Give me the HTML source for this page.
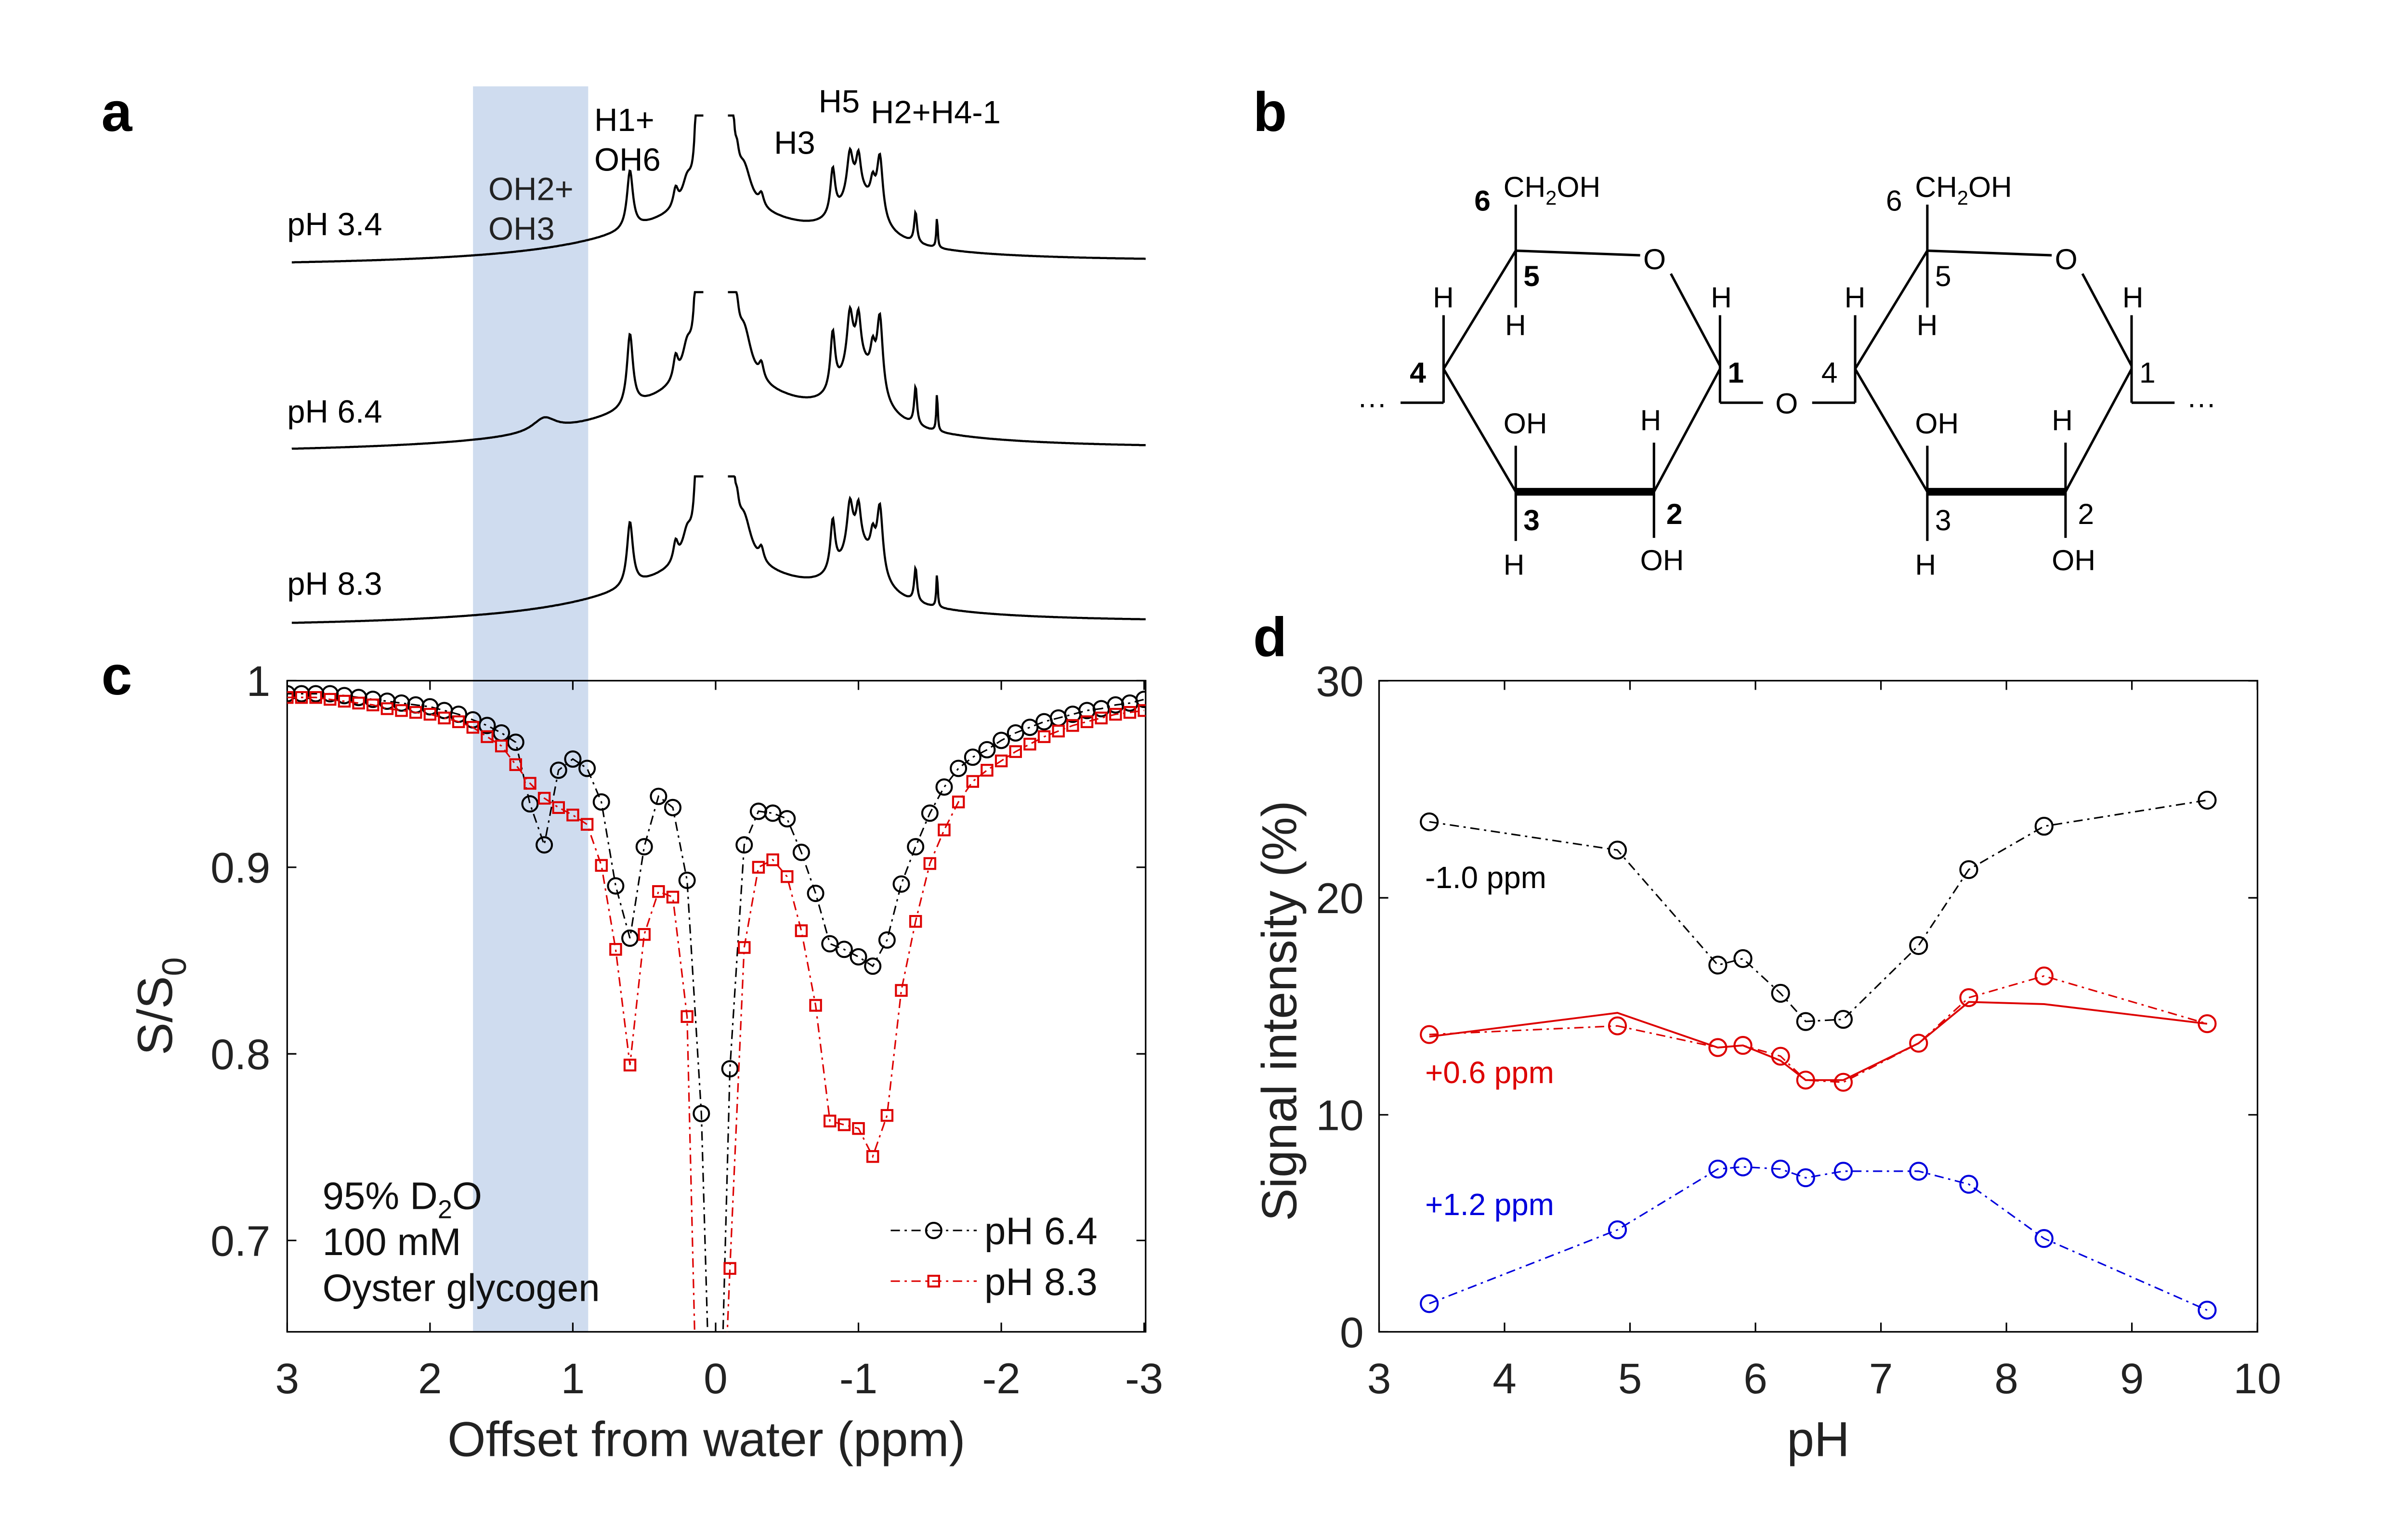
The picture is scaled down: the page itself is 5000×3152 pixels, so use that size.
<!DOCTYPE html>
<html><head><meta charset="utf-8"><style>
html,body{margin:0;padding:0;background:#fff;width:5000px;height:3152px;overflow:hidden}
svg{display:block;position:absolute;left:0;top:0}
text{font-family:"Liberation Sans",Arial,sans-serif}
</style></head><body>
<svg id="fig" width="5000" height="3152" viewBox="0 0 1568 988" xmlns="http://www.w3.org/2000/svg">
<rect width="1568" height="988" fill="#fff"/>
<text x="66" y="85" font-size="36" font-weight="bold">a</text>
<text x="816" y="85" font-size="36" font-weight="bold">b</text>
<text x="66" y="452" font-size="36" font-weight="bold">c</text>
<text x="816" y="427" font-size="36" font-weight="bold">d</text>
<rect x="308" y="56" width="75" height="811" fill="#cfdcef"/>
<g id="spectra"></g>
<g font-size="21">
<text x="187" y="153">pH 3.4</text>
<text x="187" y="275">pH 6.4</text>
<text x="187" y="387">pH 8.3</text>
<text x="318" y="130" fill="#222">OH2+</text><text x="318" y="156" fill="#222">OH3</text>
<text x="387" y="85">H1+</text><text x="387" y="111">OH6</text>
<text x="504" y="100">H3</text><text x="533" y="73">H5</text><text x="567" y="80">H2+H4-1</text>
</g>
<g id="struct" stroke="#000" stroke-width="1.6" fill="none"></g>
<g id="chartc"></g>
<g id="chartd"></g>
</svg>
<script>
const NS="http://www.w3.org/2000/svg";
function mk(p,tag,a,txt){const e=document.createElementNS(NS,tag);for(const k in a)e.setAttribute(k,a[k]);if(txt!==undefined)e.textContent=txt;p.appendChild(e);return e;}

// ---------- Chart c data ----------
const offsets=[3,2.9,2.8,2.7,2.6,2.5,2.4,2.3,2.2,2.1,2,1.9,1.8,1.7,1.6,1.5,1.4,1.3,1.2,1.1,1,0.9,0.8,0.7,0.6,0.5,0.4,0.3,0.2,0.1,0,-0.1,-0.2,-0.3,-0.4,-0.5,-0.6,-0.7,-0.8,-0.9,-1,-1.1,-1.2,-1.3,-1.4,-1.5,-1.6,-1.7,-1.8,-1.9,-2,-2.1,-2.2,-2.3,-2.4,-2.5,-2.6,-2.7,-2.8,-2.9,-3];
const ph64=[.993,.993,.993,.993,.992,.991,.99,.989,.988,.987,.986,.984,.982,.979,.976,.972,.967,.934,.912,.952,.958,.953,.935,.89,.862,.911,.938,.932,.893,.768,.5,.792,.912,.93,.929,.926,.908,.886,.859,.856,.852,.847,.861,.891,.911,.929,.943,.953,.959,.963,.968,.972,.975,.978,.98,.982,.984,.985,.987,.988,.99];
const ph83=[.991,.991,.991,.99,.989,.988,.987,.985,.984,.983,.982,.98,.978,.975,.97,.965,.955,.945,.937,.932,.928,.923,.901,.856,.794,.864,.887,.884,.82,.5,.5,.685,.857,.9,.904,.895,.866,.826,.764,.762,.76,.745,.767,.834,.871,.902,.92,.935,.946,.952,.957,.962,.966,.97,.973,.976,.978,.98,.982,.983,.984];
const cXTicks=[3,2,1,0,-1,-2,-3];
const cYTicks=[0.7,0.8,0.9,1];

// ---------- Chart d data ----------
const phVals=[3.4,4.9,5.7,5.9,6.2,6.4,6.7,7.3,7.7,8.3,9.6];
const neg10=[23.5,22.2,16.9,17.2,15.6,14.3,14.4,17.8,21.3,23.3,24.5];
const pos06=[13.7,14.1,13.1,13.2,12.7,11.6,11.5,13.3,15.4,16.4,14.2];
const pos06fit=[13.6,14.7,13.1,13.2,12.5,11.6,11.6,13.3,15.2,15.1,14.2];
const pos12=[1.3,4.7,7.5,7.6,7.5,7.1,7.4,7.4,6.8,4.3,1.0];
const dXTicks=[3,4,5,6,7,8,9,10];
const dYTicks=[0,10,20,30];

// ---------- Spectra peak lists: [ppm, height, width] ----------
const specPeaks=[[0,34,0.8],[0.6,38,0.025],[0.28,12,0.02],[0.2,14,0.04],[0,1500,0.014],[0.12,200,0.012],[-0.1,200,0.012],[-0.15,10,0.015],[-0.2,22,0.06],[-0.32,8,0.02],[-1.0,32,0.16],[-0.82,30,0.02],[-0.94,28,0.025],[-1.0,22,0.02],[-1.15,40,0.025],[-1.1,15,0.02],[-1.4,20,0.012],[-1.55,20,0.006]];
const specBase=[173,295,408];
const specScale=[1,1.25,1.1];

(function(){
 const cX=v=>466-v*93, cY=v=>443+(1-v)*1215;
 const g=document.getElementById('chartc');
 const cp=mk(g,'clipPath',{id:'clipc'});mk(cp,'rect',{x:187,y:430,width:559,height:437});
 const sg=document.getElementById('spectra');
 specBase.forEach((b,i)=>{
  let segs=[[190,458],[474,746]];
  segs.forEach(([a,e])=>{
   let d='';
   for(let px=a;px<=e;px+=0.5){
    const ppm=(466-px)/93;let h=0;
    specPeaks.forEach(p=>{const w=p[2];h+=p[1]*w*w/((ppm-p[0])**2+w*w);});
    h*=specScale[i];
    if(i==1)h+=9*0.01/((ppm-1.2)**2+0.01);
    let y=b-(px-190)*0.004-h;
    y=Math.max(y,b-(i==1?105:98));
    d+=(d?'L':'M')+px.toFixed(1)+','+y.toFixed(1);
   }
   const p=mk(sg,'path',{d,fill:'none',stroke:'#000','stroke-width':1.4});
   
  });
 });
 const ax=mk(g,'rect',{x:187,y:443,width:559,height:424,fill:'none',stroke:'#000','stroke-width':1});
 
 cXTicks.forEach(t=>{const x=cX(t);mk(g,'line',{x1:x,x2:x,y1:867,y2:861,stroke:'#000'});mk(g,'line',{x1:x,x2:x,y1:443,y2:449,stroke:'#000'});
  const tl=mk(g,'text',{x:x,y:907,'font-size':28,'text-anchor':'middle',fill:'#222'},String(t));});
 cYTicks.forEach(t=>{const y=cY(t);mk(g,'line',{x1:187,x2:193,y1:y,y2:y,stroke:'#000'});mk(g,'line',{x1:746,x2:740,y1:y,y2:y,stroke:'#000'});
  const tl=mk(g,'text',{x:176,y:y+10,'font-size':28,'text-anchor':'end',fill:'#222'},String(t));});
 const xt=mk(g,'text',{x:460,y:948,'font-size':32,'text-anchor':'middle',fill:'#222'},'Offset from water (ppm)');
 const yt=mk(g,'text',{transform:'translate(112,655) rotate(-90)','font-size':32,'text-anchor':'middle',fill:'#222'});
 yt.innerHTML='S/S<tspan font-size="22" dy="9">0</tspan>';
 const series=[[ph64,'#000','circle'],[ph83,'#d00','square']];
 const pg=mk(g,'g',{'clip-path':'url(#clipc)'});
 series.forEach(([vals,col,shape])=>{
  const d=vals.map((v,i)=>(i?'L':'M')+cX(offsets[i]).toFixed(1)+','+cY(v).toFixed(1)).join('');
  const l=mk(pg,'path',{d,fill:'none',stroke:col,'stroke-width':1,'stroke-dasharray':'6,3,1.5,3'});
  
  vals.forEach((v,i)=>{const x=cX(offsets[i]),y=cY(v);let m;
   if(shape=='circle')m=mk(pg,'circle',{cx:x,cy:y,r:5,fill:'none',stroke:col,'stroke-width':1.3});
   else m=mk(pg,'rect',{x:x-3.5,y:y-3.5,width:7,height:7,fill:'none',stroke:col,'stroke-width':1.3});
   });
 });
 const an=mk(g,'text',{'font-size':25,fill:'#111'});
 an.innerHTML='<tspan x="210" y="787">95% D<tspan font-size="17" dy="6">2</tspan><tspan dy="-6">O</tspan></tspan><tspan x="210" y="817">100 mM</tspan><tspan x="210" y="847">Oyster glycogen</tspan>';
 const lg=mk(g,'g',{});
 [[810,'#000','pH 6.4','c'],[843,'#d00','pH 8.3','s']].forEach(([y,c,t,s])=>{
  mk(lg,'line',{x1:580,x2:636,y1:y-9,y2:y-9,stroke:c,'stroke-dasharray':'6,3,1.5,3'});
  if(s=='c')mk(lg,'circle',{cx:608,cy:y-9,r:5,fill:'none',stroke:c,'stroke-width':1.3});else mk(lg,'rect',{x:604.5,y:y-12.5,width:7,height:7,fill:'none',stroke:c,'stroke-width':1.3});
  const e=mk(lg,'text',{x:641,y:y,'font-size':25,fill:'#111'},t);
 });
})();

(function(){
 const dX=v=>898+(v-3)*81.7, dY=v=>867-v*14.13;
 const g=document.getElementById('chartd');
 const ax=mk(g,'rect',{x:898,y:443,width:572,height:424,fill:'none',stroke:'#000','stroke-width':1});
 
 dXTicks.forEach(t=>{const x=dX(t);mk(g,'line',{x1:x,x2:x,y1:867,y2:861,stroke:'#000'});mk(g,'line',{x1:x,x2:x,y1:443,y2:449,stroke:'#000'});
  const tl=mk(g,'text',{x:x,y:907,'font-size':28,'text-anchor':'middle',fill:'#222'},String(t));});
 dYTicks.forEach(t=>{const y=dY(t);mk(g,'line',{x1:898,x2:904,y1:y,y2:y,stroke:'#000'});mk(g,'line',{x1:1470,x2:1464,y1:y,y2:y,stroke:'#000'});
  const tl=mk(g,'text',{x:888,y:y+10,'font-size':28,'text-anchor':'end',fill:'#222'},String(t));});
 const xt=mk(g,'text',{x:1184,y:948,'font-size':32,'text-anchor':'middle',fill:'#222'},'pH');
 const yt=mk(g,'text',{transform:'translate(844,658) rotate(-90)','font-size':32,'text-anchor':'middle',fill:'#222'},'Signal intensity (%)');
 const path=v=>v.map((y,i)=>(i?'L':'M')+dX(phVals[i]).toFixed(1)+','+dY(y).toFixed(1)).join('');
 const fit=mk(g,'path',{d:path(pos06fit),fill:'none',stroke:'#d00','stroke-width':1.2});
 [[neg10,'#000'],[pos06,'#d00'],[pos12,'#00d']].forEach(([vals,c])=>{
  const l=mk(g,'path',{d:path(vals),fill:'none',stroke:c,'stroke-width':1,'stroke-dasharray':'6,3,1.5,3'});
  vals.forEach((v,i)=>{const m=mk(g,'circle',{cx:dX(phVals[i]),cy:dY(v),r:5.5,fill:'none',stroke:c,'stroke-width':1.3});});
 });
 [[928,578,'#000','-1.0 ppm'],[928,705,'#d00','+0.6 ppm'],[928,791,'#00d','+1.2 ppm']].forEach(([x,y,c,t])=>{const e=mk(g,'text',{x,y,'font-size':20,fill:c},t);});
})();

(function(){
 const g=document.getElementById('struct');
 function ring(dx,bold){
  const L=(x1,y1,x2,y2,w)=>mk(g,'line',{x1:x1+dx,y1,x2:x2+dx,y2,'stroke-width':w||1.6});
  L(987,163,1068,166);L(1088,178,1120,238);L(1120,240,1077,320);L(1077,320,987,320,5);L(987,320,940,240);L(940,240,987,163);
  L(987,163,987,133);L(987,163,987,200);L(940,240,940,205);L(940,240,940,262);L(940,262,912,262);
  L(1120,240,1120,205);L(1120,240,1120,262);L(1120,262,1148,262);
  L(987,320,987,290);L(987,320,987,352);L(1077,320,1077,288);L(1077,320,1077,350);
  const T=(x,y,t,b,s)=>{const e=mk(g,'text',{x:x+dx,y,'font-size':s||19,'font-weight':b?'bold':'normal',fill:'#000',stroke:'none'});e.innerHTML=t;return e;};
  T(979,128,'CH<tspan font-size="13" dy="5">2</tspan><tspan dy="-5">OH</tspan>');
  T(1070,175,'O');T(960,137,'6',bold);T(992,186,'5',bold);T(980,218,'H');
  T(933,200,'H');T(918,249,'4',bold);T(1114,200,'H');T(1125,249,'1',bold);
  T(979,282,'OH');T(992,345,'3',bold);T(979,374,'H');T(1068,280,'H');T(1085,341,'2',bold);T(1068,371,'OH');
 }
 ring(0,true);ring(268,false);
 const t=(x,y,s)=>{mk(g,'text',{x,y,'font-size':19,fill:'#000',stroke:'none'},s);};
 t(884,269,'···');t(1156,269,'O');t(1424,269,'···');
})();
</script>
</body></html>
